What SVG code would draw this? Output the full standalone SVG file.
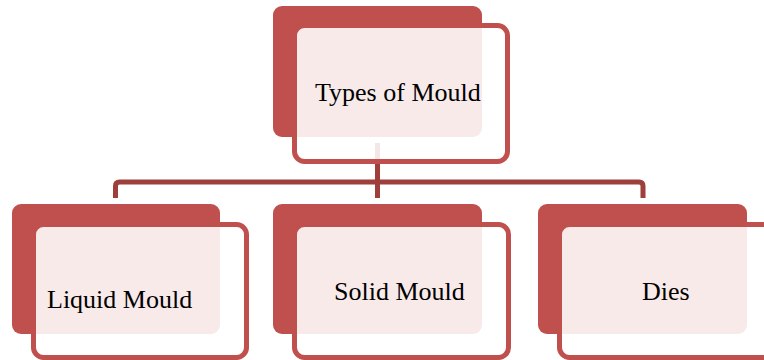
<svg xmlns="http://www.w3.org/2000/svg" width="764" height="360" viewBox="0 0 764 360">
<style>
.back{fill:#C0504D}
.front{fill:#FFFFFF;fill-opacity:0.88;stroke:#C0504D;stroke-width:5}
.conn{fill:none;stroke:#9E3F3C;stroke-width:5;stroke-linejoin:round}
.lbl{font-family:"Liberation Serif","Times New Roman",serif;font-size:26px;fill:#000}
</style>
<rect width="764" height="360" fill="#FFFFFF"/>
<g id="connectors">
<path class="conn" d="M377.5,143 V182"/>
<path class="conn" d="M115.5,198 V186 Q115.5,182 119.5,182 H639 Q643,182 643,186 V198"/>
<path class="conn" d="M377.5,182 V198"/>
</g>
<g id="node-types">
<rect class="back" x="273" y="6" width="209" height="131" rx="9"/>
<rect class="front" x="294.5" y="25.5" width="213" height="136" rx="10"/>
<text class="lbl" x="315" y="101">Types of Mould</text>
</g>
<g id="node-liquid">
<rect class="back" x="12" y="204" width="208" height="130" rx="9"/>
<rect class="front" x="33.5" y="224.5" width="213" height="133" rx="10"/>
<text class="lbl" x="47" y="308">Liquid Mould</text>
</g>
<g id="node-solid">
<rect class="back" x="273" y="204" width="209" height="130" rx="9"/>
<rect class="front" x="294.5" y="224.5" width="214" height="133" rx="10"/>
<text class="lbl" x="334" y="299.5">Solid Mould</text>
</g>
<g id="node-dies">
<rect class="back" x="538" y="204" width="209" height="130" rx="9"/>
<rect class="front" x="559.5" y="224.5" width="214" height="133" rx="10"/>
<text class="lbl" x="642" y="299.5">Dies</text>
</g>
</svg>
